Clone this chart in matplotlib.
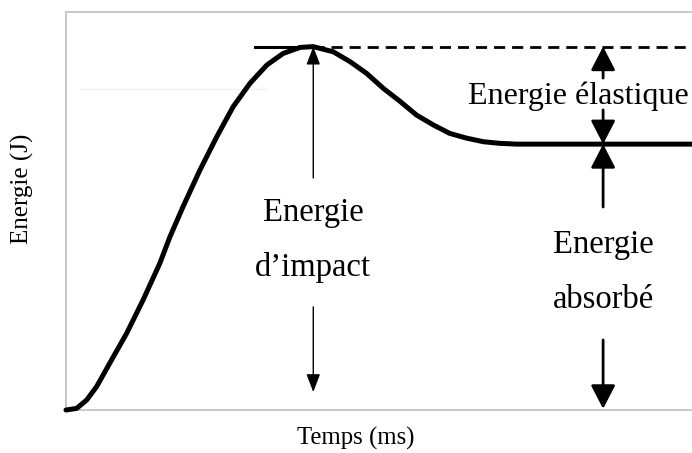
import matplotlib.pyplot as plt

plt.rcParams['font.family'] = ['Liberation Serif', 'DejaVu Serif']

# courbe energie / temps (unites arbitraires)
temps = [0.0, 1.7, 3.3, 4.9, 7.0, 9.7, 12.3, 15.0, 16.6, 18.7, 21.4, 24.1, 26.7, 29.4,
         32.1, 34.7, 37.4, 39.5, 42.7, 45.4, 48.0, 50.7, 53.4, 56.0, 58.7, 61.3, 64.0,
         66.7, 69.3, 72.0, 100.0]
energie = [0.0, 0.4, 2.5, 5.9, 11.8, 19.3, 27.6, 36.9, 43.5, 51.1, 60.3, 68.7, 76.2, 82.1,
           86.7, 89.6, 91.1, 91.3, 90.0, 87.5, 84.6, 80.8, 77.5, 74.1, 71.6, 69.5, 68.3,
           67.4, 67.0, 66.8, 66.8]

t_pic = temps[energie.index(max(energie))]
e_pic = max(energie)
e_abs = energie[-1]
t_mesure = 85.8

fig = plt.figure(figsize=(6.92, 4.53), dpi=100)
ax = fig.add_axes([66 / 692, 43 / 453, 1 - 66 / 692, 398 / 453])
ax.set_xlim(0, 100)
ax.set_ylim(0, 100)
ax.set_xticks([])
ax.set_yticks([])
for s in ['left', 'bottom', 'top']:
    ax.spines[s].set_color('#c4c4c4')
    ax.spines[s].set_linewidth(1.3)
ax.spines['right'].set_visible(False)

# petit trait gris (artefact de l'image)
ax.plot([2.2, 31.8], [80.7, 80.7], color='#f2f2f2', lw=1)

ax.plot(temps, energie, color='black', lw=3.6, solid_capstyle='round',
        solid_joinstyle='round', clip_on=False, zorder=3)

# niveau du pic
ax.plot([30.2, t_pic], [e_pic, e_pic], color='black', lw=2.2)
ax.plot([t_pic, 100], [e_pic, e_pic], color='black', lw=2.0, dashes=(4, 2.5))

petite = dict(arrowstyle='-|>,head_length=1.1,head_width=0.42', color='black', lw=1.0,
              shrinkA=0, shrinkB=0)
grande = dict(arrowstyle='-|>,head_length=1.45,head_width=0.75', color='black', lw=2.0,
              shrinkA=0, shrinkB=0)

# energie d'impact
ax.annotate('', xy=(t_pic, e_pic), xytext=(t_pic, 58.3), arrowprops=petite)
ax.annotate('', xy=(t_pic, 4.5), xytext=(t_pic, 25.9), arrowprops=petite)
ax.text(t_pic, 49.5, 'Energie', ha='center', va='center', fontsize=23.5)
ax.text(t_pic, 35.7, 'd\u2019impact', ha='center', va='center', fontsize=23.5)

# energie elastique
ax.annotate('', xy=(t_mesure, e_pic), xytext=(t_mesure, 83.4), arrowprops=grande)
ax.annotate('', xy=(t_mesure, e_abs), xytext=(t_mesure, 75.4), arrowprops=grande)
ax.text(81.9, 78.9, 'Energie élastique', ha='center', va='center', fontsize=23)

# energie absorbee
ax.annotate('', xy=(t_mesure, e_abs), xytext=(t_mesure, 51.0), arrowprops=grande)
ax.annotate('', xy=(t_mesure, 0.3), xytext=(t_mesure, 17.6), arrowprops=grande)
ax.text(t_mesure, 41.5, 'Energie', ha='center', va='center', fontsize=23.5)
ax.text(t_mesure, 27.6, 'absorbé', ha='center', va='center', fontsize=23.5)

fig.text(356 / 692, 15 / 453, 'Temps (ms)', ha='center', va='center', fontsize=17.8)
fig.text(22 / 692, 264 / 453, 'Energie (J)', ha='center', va='center', fontsize=18,
         rotation=90)

fig.savefig('out.png', dpi=100)
